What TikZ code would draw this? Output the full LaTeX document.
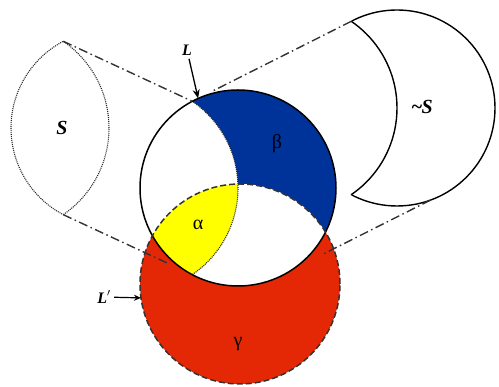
\documentclass[tikz,border=0pt]{standalone}
\usepackage{fontspec}
\setmainfont{Liberation Serif}
\usetikzlibrary{arrows.meta, calc}

\definecolor{betablue}{RGB}{0,51,153}
\definecolor{gammared}{RGB}{228,40,5}
\definecolor{alphayellow}{RGB}{255,255,0}

\begin{document}
\begin{tikzpicture}[x=1pt, y=1pt,
    projline/.style={line width=1.4pt, black!80, dash pattern=on 9pt off 3.5pt on 1.5pt off 3.5pt},
    lensline/.style={line width=1.1pt, black!85, dash pattern=on 1pt off 1pt},
    lab/.style={font=\fontsize{20}{22}\selectfont\bfseries\itshape},
    greek/.style={font=\fontsize{20}{22}\selectfont}]
    \useasboundingbox (0,0) rectangle (499,387);
    % centres of the circles and tips of the lens
    \coordinate (c1) at (238,199);
    \coordinate (c2) at (240,103);
    \coordinate (d) at (133,199);
    \coordinate (Lt) at (192.3,285.7);
    \coordinate (Lb) at (192.3,112.3);
    % copies: S to the left, ~S to the right
    \coordinate (s1) at (109,259);
    \coordinate (sd) at (4,259);
    \coordinate (St) at (63.3,345.7);
    \coordinate (Sb) at (63.3,172.3);
    \coordinate (n1) at (397,279);
    \coordinate (nd) at (292,279);
    \coordinate (Nt) at (351.3,365.7);
    \coordinate (Nb) at (351.3,192.3);

    % regions
    \fill[gammared] (c2) circle (100);
    \fill[white] (c1) circle (98);
    \begin{scope}
        \clip (c1) circle (98);
        \fill[betablue] (c1) circle (98);
        \fill[white] (d) circle (105);
        \fill[white] (c2) circle (100);
        \clip (c2) circle (100);
        \fill[alphayellow] (d) circle (105);
    \end{scope}
    \begin{scope}
        \clip (c1) circle (98);
        \draw[lensline] (d) circle (105);
    \end{scope}
    \draw[line width=1.5pt] (c1) circle (98);
    \draw[line width=1.5pt, black!80, dash pattern=on 6pt off 3pt] (c2) circle (100);

    % S
    \begin{scope}
        \clip (0,0) rectangle (63.3,387);
        \draw[lensline] (s1) circle (98);
    \end{scope}
    \begin{scope}
        \clip (s1) circle (98);
        \draw[lensline] (sd) circle (105);
    \end{scope}
    % ~S
    \begin{scope}
        \clip (351.3,0) rectangle (499,387);
        \draw[line width=1.4pt] (n1) circle (98);
    \end{scope}
    \begin{scope}
        \clip (n1) circle (98);
        \draw[line width=1.4pt] (nd) circle (105);
    \end{scope}

    % projection lines
    \coordinate (Nr) at ($(n1)+(-70:98)$);
    \coordinate (Mr) at ($(c1)+(-70:98)$);
    \draw[projline] (St) -- (Lt);
    \draw[projline] (Sb) -- ($(Sb)!0.82!(Lb)$);
    \draw[projline] (Nt) -- ($(Nt)!0.87!(Lt)$);
    \draw[projline] (Nr) -- ($(Nr)!0.68!(Mr)$);

    % labels
    \node[lab] (Slab) at (62,259) {S};
    \node[lab] (NSlab) at (422,280) {\char`\~\kern-1pt S};
    \node[greek] (beta) at (277,243) {β};
    \node[greek] (alpha) at (198,162) {α};
    \node[greek] (gamma) at (238,43) {γ};
    \node[lab, font=\fontsize{16}{18}\selectfont\bfseries\itshape] (Llab) at (187,337) {L};
    \node[lab, font=\fontsize{16}{18}\selectfont\bfseries\itshape] (Lplab) at (104,90) {L$^\prime$};
    \draw[-{Stealth[length=9pt,width=7pt]}, line width=1.3pt] (Llab) -- ($(c1)+(114:98)$);
    \draw[-{Stealth[length=7pt,width=6pt]}, line width=1.2pt] (Lplab) -- ($(c2)+(188:100)$);
\end{tikzpicture}
\end{document}
